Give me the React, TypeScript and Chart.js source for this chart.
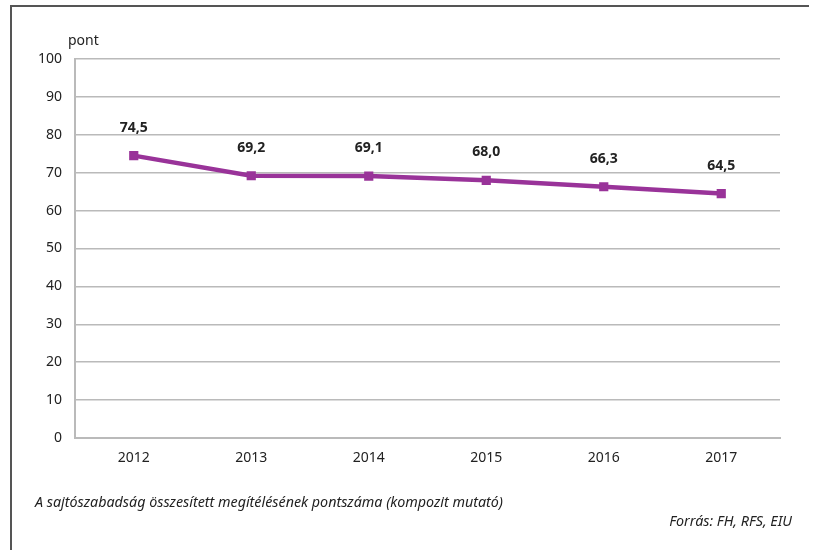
import React, { useEffect, useRef } from "react";
import { Chart, registerables } from "chart.js";

Chart.register(...registerables);

const categories = ["2012", "2013", "2014", "2015", "2016", "2017"];
const scores = [74.5, 69.2, 69.1, 68.0, 66.3, 64.5];
const yTicks = [0, 10, 20, 30, 40, 50, 60, 70, 80, 90, 100];
const yTitle = "pont";
const caption = "A sajtószabadság összesített megítélésének pontszáma (kompozit mutató)";
const source = "Forrás: FH, RFS, EIU";

const FONT = "'Noto Sans', 'Open Sans', sans-serif";
const PURPLE = "#993399";
const GRID = "#bababa";

const labelPlugin = {
  id: "pointLabels",
  afterDatasetsDraw(chart: any) {
    const ctx = chart.ctx;
    const meta = chart.getDatasetMeta(0);
    ctx.save();
    ctx.font = `bold 14px ${FONT}`;
    ctx.fillStyle = "#222";
    ctx.textAlign = "center";
    ctx.textBaseline = "middle";
    meta.data.forEach((pt: any, i: number) => {
      ctx.fillText(scores[i].toFixed(1).replace(".", ","), pt.x, pt.y - 28);
    });
    ctx.restore();
  },
};

export default function App() {
  const ref = useRef<HTMLCanvasElement>(null);
  useEffect(() => {
    if (!ref.current) return;
    const chart = new Chart(ref.current, {
      type: "line",
      data: {
        labels: categories,
        datasets: [
          {
            data: scores,
            borderColor: PURPLE,
            backgroundColor: PURPLE,
            borderWidth: 4.5,
            pointStyle: "rect",
            pointRadius: 6.5,
            pointBorderWidth: 0,
            tension: 0,
          },
        ],
      },
      options: {
        animation: false,
        responsive: false,
        maintainAspectRatio: false,
        layout: { padding: { left: 10, right: 33, top: 59, bottom: 0 } },
        plugins: { legend: { display: false }, tooltip: { enabled: false } },
        scales: {
          x: {
            offset: true,
            grid: { display: false, drawTicks: false },
            border: { color: GRID, width: 2 },
            ticks: { color: "#222", font: { family: FONT, size: 14 }, padding: 12 },
            afterFit(scale: any) {
              scale.height = 112;
            },
          },
          y: {
            min: 0,
            max: 100,
            afterBuildTicks(scale: any) {
              scale.ticks = yTicks.map((v) => ({ value: v }));
            },
            grid: { color: GRID, lineWidth: 1.5, drawTicks: false },
            border: { color: GRID, width: 2 },
            ticks: { color: "#222", font: { family: FONT, size: 14 }, padding: 13 },
            afterFit(scale: any) {
              scale.width = 65;
            },
          },
        },
      },
      plugins: [labelPlugin],
    });
    return () => chart.destroy();
  }, []);

  return (
    <div style={{ position: "fixed", left: 0, top: 0, width: 813, height: 550, background: "#fff", fontFamily: FONT }}>
      <div style={{ position: "absolute", left: 10, top: 5, width: 797, height: 545, borderLeft: "2px solid #555", borderTop: "2px solid #555" }} />
      <canvas ref={ref} width={813} height={550} style={{ position: "absolute", left: 0, top: 0 }} />
      <div style={{ position: "absolute", left: 68, top: 30, fontSize: 14, color: "#222" }}>{yTitle}</div>
      <div style={{ position: "absolute", left: 35, top: 492, fontSize: 14.3, fontStyle: "italic", color: "#222" }}>{caption}</div>
      <div style={{ position: "absolute", right: 21, top: 511, fontSize: 14.3, fontStyle: "italic", color: "#222" }}>{source}</div>
    </div>
  );
}
